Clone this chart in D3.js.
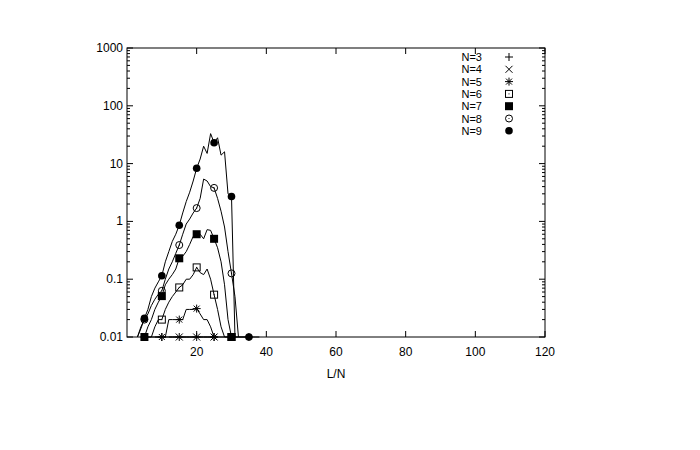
<!DOCTYPE html><html><head><meta charset="utf-8"><script src="https://cdn.jsdelivr.net/npm/d3@7"></script>
<style>body{margin:0;background:#fff}text{font-family:"Liberation Sans",Arial,sans-serif;font-size:12px;fill:#000}.lg{font-size:11px}</style></head><body>
<svg id="c" width="700" height="450"></svg>
<script>
const labels=["N=3","N=4","N=5","N=6","N=7","N=8","N=9"];
const starts=[5,12,8,6,4,3,3];
const n3=Array(34).fill(0.01);
const n4=Array(14).fill(0.01);
const n5=[0.01,0.01,0.01,0.01,0.02,0.02,0.02,0.02,0.02,0.03,0.03,0.03,0.031,0.025,0.02,0.02,0.015,0.01,0.01];
const n6=[0.01,0.01,0.015,0.02,0.02,0.03,0.04,0.05,0.06,0.072,0.08,0.1,0.1,0.12,0.16,0.13,0.12,0.15,0.1,0.054,0.03,0.015,0.01,0.01,0.01];
const n7=[0.01,0.01,0.015,0.02,0.03,0.04,0.051,0.08,0.1,0.12,0.15,0.23,0.25,0.3,0.4,0.55,0.6,0.6,0.5,0.72,0.7,0.5,0.35,0.2,0.08,0.02,0.01];
const n8=[0.01,0.015,0.02,0.025,0.035,0.045,0.055,0.063,0.1,0.15,0.2,0.28,0.39,0.6,0.9,1.1,1.4,1.7,2.5,5.4,5,4,3.8,2.5,1.5,0.8,0.3,0.126,0.05,0.01];
const n9=[0.01,0.014,0.021,0.03,0.05,0.07,0.09,0.115,0.2,0.3,0.45,0.6,0.86,1.4,2.2,3.2,5,8.3,12,20,15,33,23,28,14,16,3,2.7,0.01,0.01,0.01,0.01,0.01];
const series=[n3,n4,n5,n6,n7,n8,n9];
const xTicks=[20,40,60,80,100,120];
const yTicks=[0.01,0.1,1,10,100,1000];
const svg=d3.select("#c");
const L=127,R=545,T=48,B=337;
const x=d3.scaleLinear().domain([0,120]).range([L,R]);
const y=d3.scaleLog().domain([0.01,1000]).range([B,T]).clamp(true);
svg.append("rect").attr("x",L).attr("y",T).attr("width",R-L).attr("height",B-T).attr("fill","none").attr("stroke","#000");
const g=svg.append("g");
xTicks.forEach(t=>{g.append("line").attr("x1",x(t)).attr("x2",x(t)).attr("y1",B).attr("y2",B-6).attr("stroke","#000");
 g.append("line").attr("x1",x(t)).attr("x2",x(t)).attr("y1",T).attr("y2",T+6).attr("stroke","#000");
 g.append("text").attr("x",x(t)).attr("y",B+19).attr("text-anchor","middle").text(t);});
const minor=[];for(let e=-2;e<3;e++)for(let m=1;m<10;m++)minor.push(m*Math.pow(10,e));minor.push(1000);
minor.forEach(v=>{const major=yTicks.includes(+v.toPrecision(3));const len=major?6:3;
 g.append("line").attr("x1",L).attr("x2",L+len).attr("y1",y(v)).attr("y2",y(v)).attr("stroke","#000");
 g.append("line").attr("x1",R).attr("x2",R-len).attr("y1",y(v)).attr("y2",y(v)).attr("stroke","#000");});
yTicks.forEach(t=>g.append("text").attr("x",L-4).attr("y",y(t)+4).attr("text-anchor","end").text(String(t)));
svg.append("text").attr("x",336).attr("y",378).attr("text-anchor","middle").text("L/N");
const line=d3.line().x(d=>x(d[0])).y(d=>y(d[1]));
function marker(sel,k,cx,cy){
 const s=sel.append("g").attr("transform",`translate(${cx},${cy})`);
 if(k==0){s.append("path").attr("d","M-4,0H4M0,-4V4").attr("stroke","#000");}
 else if(k==1){s.append("path").attr("d","M-3.5,-3.5L3.5,3.5M-3.5,3.5L3.5,-3.5").attr("stroke","#000");}
 else if(k==2){s.append("path").attr("d","M-4,0H4M0,-4V4M-3,-3L3,3M-3,3L3,-3").attr("stroke","#000");}
 else if(k==3){s.append("rect").attr("x",-3.5).attr("y",-3.5).attr("width",7).attr("height",7).attr("fill","none").attr("stroke","#000");s.append("rect").attr("x",-0.5).attr("y",-0.5).attr("width",1).attr("height",1);}
 else if(k==4){s.append("rect").attr("x",-4).attr("y",-4).attr("width",8).attr("height",8).attr("fill","#000");}
 else if(k==5){s.append("circle").attr("r",3.5).attr("fill","none").attr("stroke","#000");s.append("circle").attr("r",0.6);}
 else {s.append("circle").attr("r",3.8).attr("fill","#000");}
}
series.forEach((vals,k)=>{
 const pts=vals.map((v,i)=>[starts[k]+i,v]);
 svg.append("path").attr("d",line(pts)).attr("fill","none").attr("stroke","#000").attr("stroke-width",1);
 pts.filter(p=>p[0]%5==0).forEach(p=>marker(svg,k,x(p[0]),y(p[1])));
 const ly=57+k*12.3;
 svg.append("text").attr("class","lg").attr("x",482).attr("y",ly+4).attr("text-anchor","end").text(labels[k]);
 marker(svg,k,509,ly);
});
</script></body></html>
